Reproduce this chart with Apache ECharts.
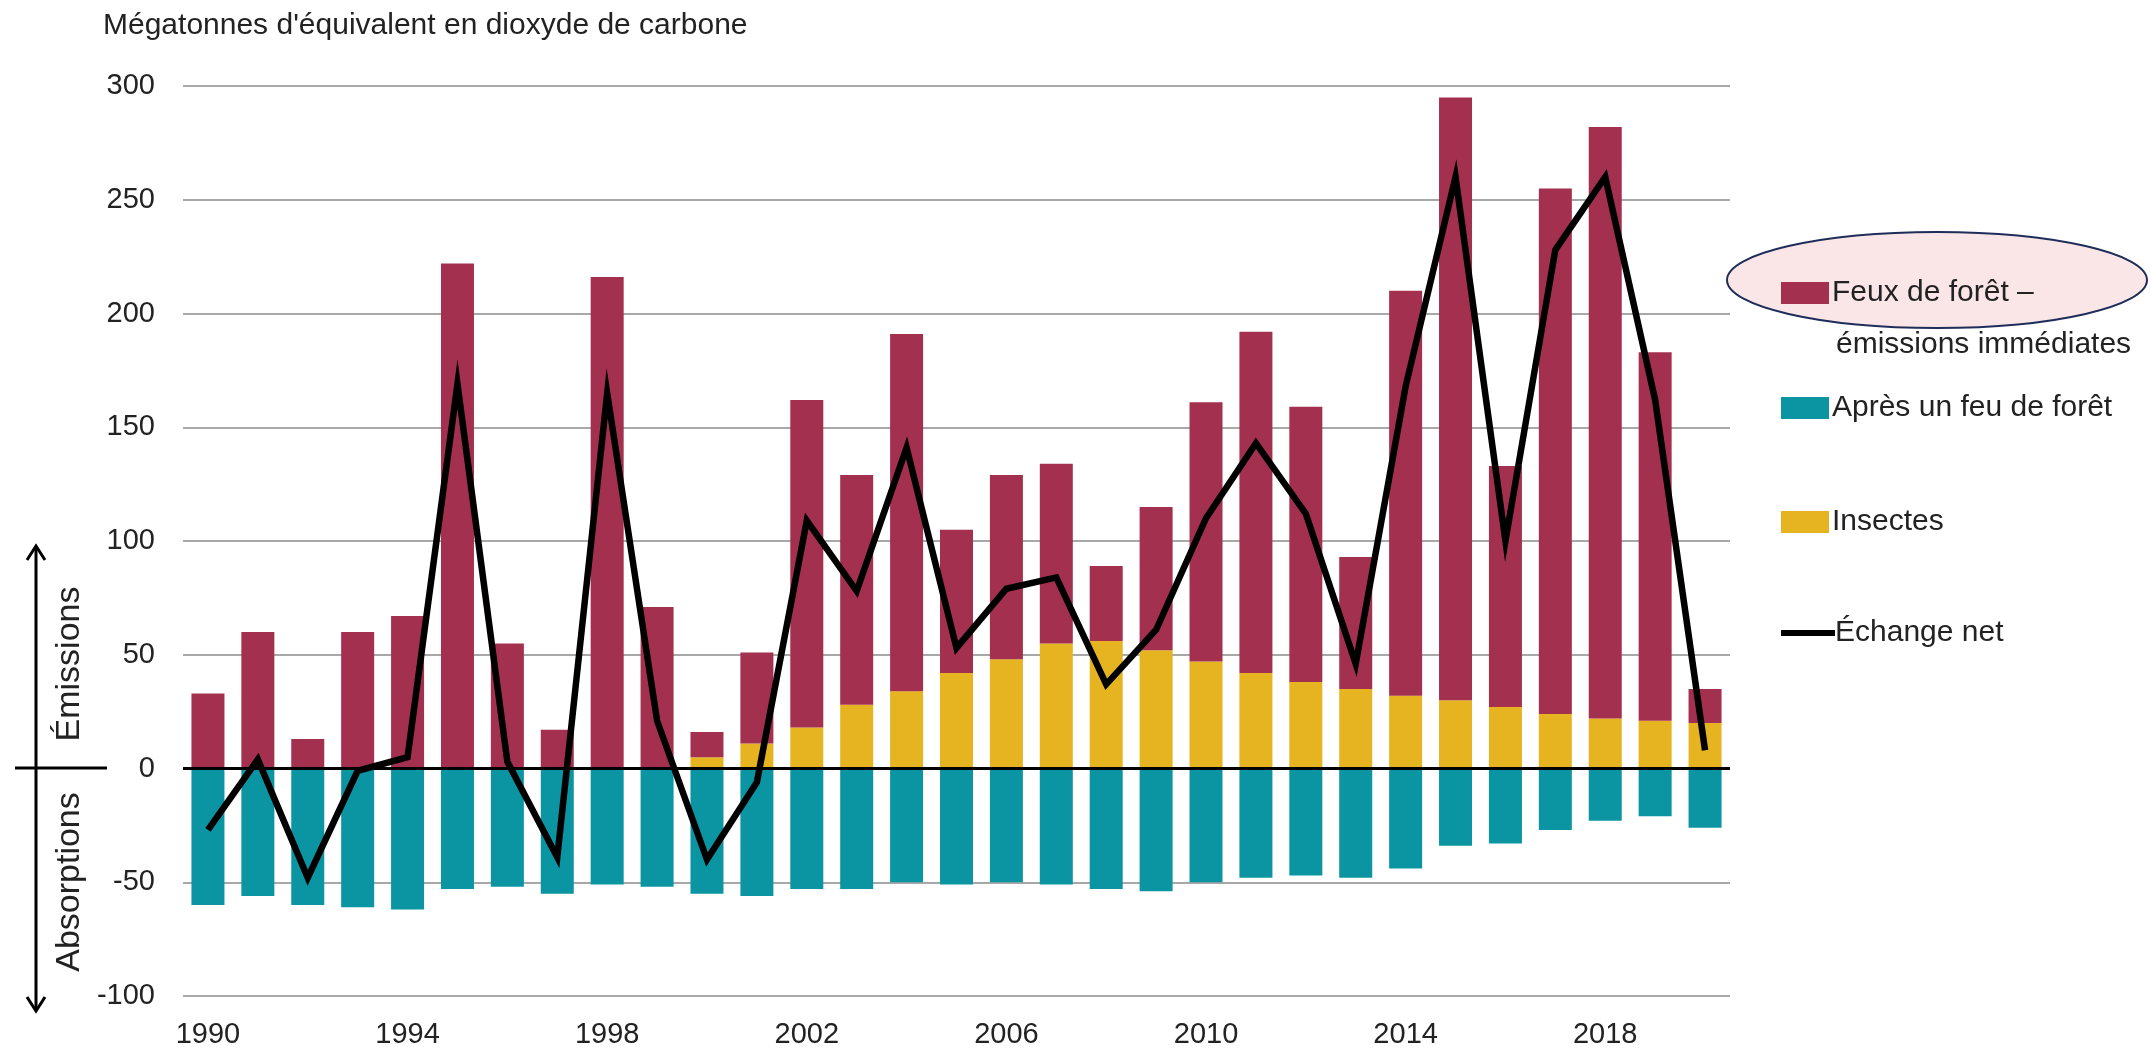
<!DOCTYPE html>
<html>
<head>
<meta charset="utf-8">
<script src="https://cdn.jsdelivr.net/npm/echarts@6/dist/echarts.min.js"></script>
<style>
  html, body { margin: 0; padding: 0; background: #fff; }
  #chart { width: 2150px; height: 1049px; }
</style>
</head>
<body>
<div id="chart"></div>
<script>
// années
var years = ['1990','1991','1992','1993','1994','1995','1996','1997','1998','1999',
  '2000','2001','2002','2003','2004','2005','2006','2007','2008','2009',
  '2010','2011','2012','2013','2014','2015','2016','2017','2018','2019','2020'];

// Insectes (Mt éq. CO2)
var insectes = [0,0,0,0,0,0,0,0,0,0,
  5,11,18,28,34,42,48,55,56,52,
  47,42,38,35,32,30,27,24,22,21,20];

// Feux de forêt – émissions immédiates (au-dessus des insectes)
var feux = [33,60,13,60,67,222,55,17,216,71,
  11,40,144,101,157,63,81,79,33,63,
  114,150,121,58,178,265,106,231,260,162,15];

// Après un feu de forêt (absorptions)
var apresFeu = [-60,-56,-60,-61,-62,-53,-52,-55,-51,-52,
  -55,-56,-53,-53,-50,-51,-50,-51,-53,-54,
  -50,-48,-47,-48,-44,-34,-33,-27,-23,-21,-26];

// Échange net
var echangeNet = [-27,4,-48,-1,5,169,3,-39,165,21,
  -40,-6,109,78,141,53,79,84,37,61,
  110,143,112,46,168,260,100,228,260,162,8];

var FONT = '"Liberation Sans", Arial, sans-serif';
var cRouge = '#a4304f', cBleu = '#0b95a2', cJaune = '#e6b421';

var myChart = echarts.init(document.getElementById('chart'));

function legendItem(name, top, isLine) {
  return {
    data: [{ name: name, icon: 'rect' }],
    orient: 'vertical',
    left: 1781,
    top: top,
    padding: 0,
    itemWidth: isLine ? 54 : 48,
    itemHeight: isLine ? 6 : 22,
    selectedMode: false,
    z: 10,
    formatter: function (n) { return n.split('\n')[0]; },
    textStyle: { fontFamily: FONT, fontSize: 30, color: '#222', padding: [0, 0, 0, isLine ? -5 : -2] }
  };
}

var option = {
  animation: false,
  backgroundColor: '#fff',
  title: {
    text: "Mégatonnes d'équivalent en dioxyde de carbone",
    left: 98,
    top: 6,
    textStyle: { fontFamily: FONT, fontSize: 30, fontWeight: 'normal', color: '#222' }
  },
  legend: [
    legendItem('Feux de forêt –\némissions immédiates', 278),
    legendItem('Après un feu de forêt', 393),
    legendItem('Insectes', 507),
    legendItem('Échange net', 618, true)
  ],
  grid: { left: 183, right: 420, top: 86, bottom: 52, containLabel: false },
  xAxis: {
    type: 'category',
    data: years,
    axisLine: { show: false, onZero: false },
    axisTick: { show: false },
    axisLabel: {
      interval: 3,
      margin: 24,
      fontFamily: FONT,
      fontSize: 29,
      color: '#222'
    }
  },
  yAxis: {
    type: 'value',
    min: -100,
    max: 300,
    interval: 50,
    axisLine: { show: false },
    axisTick: { show: false },
    axisLabel: { margin: 28, fontFamily: FONT, fontSize: 29, color: '#222' },
    splitLine: { lineStyle: { color: '#a8a8a8', width: 2 } }
  },
  graphic: [
    {
      type: 'ellipse', z: 1,
      shape: { cx: 1937, cy: 280, rx: 210, ry: 48 },
      style: { fill: '#fbe6e7', stroke: '#1f2d5a', lineWidth: 2 }
    },
    {
      type: 'text', z: 10, x: 1836, y: 345,
      style: { text: 'émissions immédiates', font: '30px ' + FONT, fill: '#222',
               align: 'left', verticalAlign: 'middle' }
    },
    // flèche Émissions / Absorptions
    { type: 'line', shape: { x1: 36, y1: 546, x2: 36, y2: 1011 },
      style: { stroke: '#000', lineWidth: 3 } },
    { type: 'polyline', shape: { points: [[27, 560], [36, 546], [45, 560]] },
      style: { stroke: '#000', lineWidth: 3, fill: null } },
    { type: 'polyline', shape: { points: [[27, 997], [36, 1011], [45, 997]] },
      style: { stroke: '#000', lineWidth: 3, fill: null } },
    { type: 'line', shape: { x1: 15, y1: 768, x2: 107, y2: 768 },
      style: { stroke: '#000', lineWidth: 3 } },
    {
      type: 'text', x: 70, y: 664, rotation: Math.PI / 2,
      style: { text: 'Émissions', font: '34px ' + FONT, fill: '#222',
               align: 'center', verticalAlign: 'middle' }
    },
    {
      type: 'text', x: 70, y: 882, rotation: Math.PI / 2,
      style: { text: 'Absorptions', font: '34px ' + FONT, fill: '#222',
               align: 'center', verticalAlign: 'middle' }
    }
  ],
  series: [
    {
      name: 'Insectes',
      type: 'bar',
      stack: 'total',
      barWidth: 33,
      itemStyle: { color: cJaune },
      data: insectes
    },
    {
      name: 'Feux de forêt –\némissions immédiates',
      type: 'bar',
      stack: 'total',
      barWidth: 33,
      itemStyle: { color: cRouge },
      data: feux
    },
    {
      name: 'Après un feu de forêt',
      type: 'bar',
      stack: 'total',
      barWidth: 33,
      itemStyle: { color: cBleu },
      data: apresFeu,
      markLine: {
        silent: true,
        symbol: 'none',
        label: { show: false },
        lineStyle: { color: '#000', width: 3, type: 'solid' },
        data: [{ yAxis: 0 }],
        z: 5
      }
    },
    {
      name: 'Échange net',
      type: 'line',
      symbol: 'none',
      z: 6,
      lineStyle: { color: '#000', width: 6.5, join: 'miter' },
      itemStyle: { color: '#000' },
      data: echangeNet
    }
  ]
};

myChart.setOption(option);
window.addEventListener('resize', function () {
  myChart.resize();
});
</script>
</body>
</html>
